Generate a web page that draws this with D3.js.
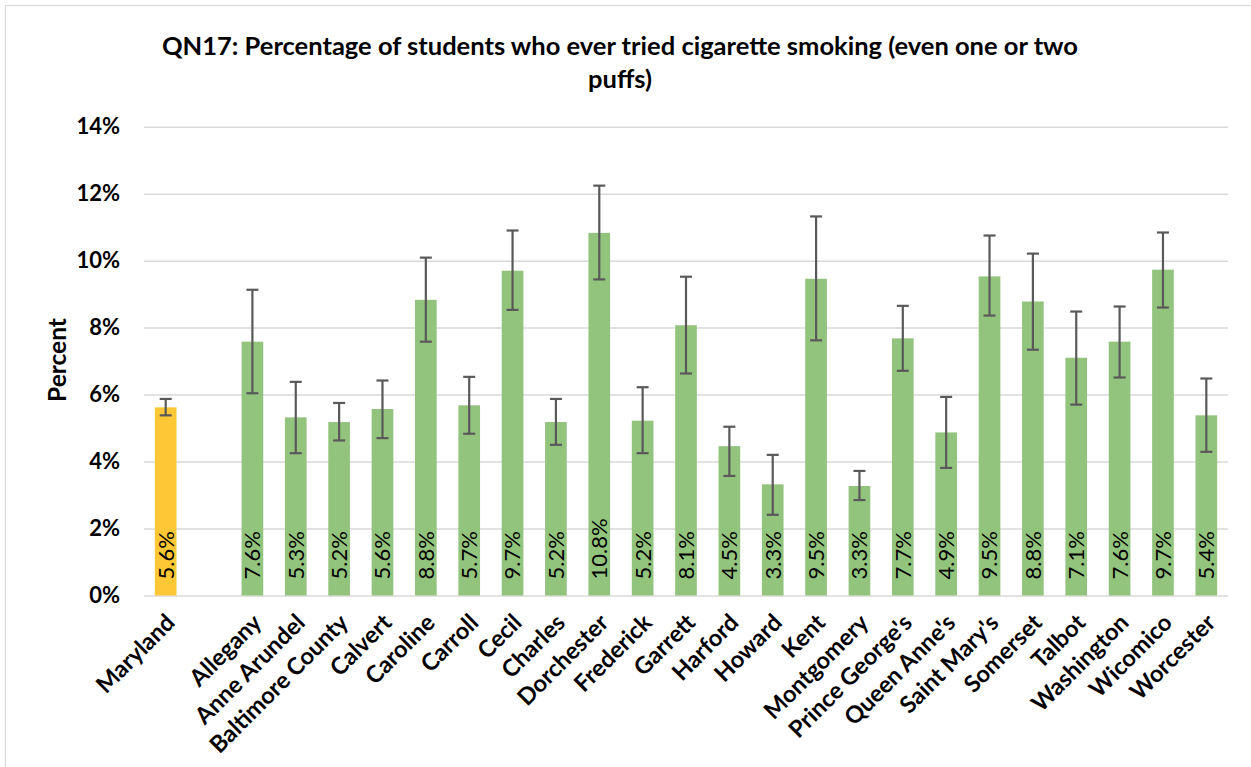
<!DOCTYPE html>
<html><head><meta charset="utf-8">
<script src="https://cdn.jsdelivr.net/npm/d3@7"></script>
<style>
html,body{margin:0;padding:0;background:#fff;}
svg{display:block;font-family:Lato,"Open Sans",sans-serif;}
</style></head>
<body>
<svg id="chart" width="1251" height="767"></svg>
<script>
const titleLines = ["QN17: Percentage of students who ever tried cigarette smoking (even one or two", "puffs)"];
const yAxisTitle = "Percent";
const categories = ["Maryland", "Allegany", "Anne Arundel", "Baltimore County", "Calvert", "Caroline", "Carroll", "Cecil", "Charles", "Dorchester", "Frederick", "Garrett", "Harford", "Howard", "Kent", "Montgomery", "Prince George's", "Queen Anne's", "Saint Mary's", "Somerset", "Talbot", "Washington", "Wicomico", "Worcester"];
const values = [5.62, 7.58, 5.32, 5.18, 5.57, 8.83, 5.68, 9.70, 5.18, 10.83, 5.22, 8.07, 4.46, 3.32, 9.46, 3.27, 7.68, 4.87, 9.53, 8.78, 7.10, 7.58, 9.73, 5.38];
const lower = [5.38, 6.04, 4.25, 4.63, 4.70, 7.58, 4.83, 8.53, 4.50, 9.44, 4.25, 6.63, 3.57, 2.41, 7.62, 2.85, 6.71, 3.81, 8.36, 7.34, 5.70, 6.51, 8.60, 4.29];
const upper = [5.87, 9.13, 6.38, 5.75, 6.42, 10.09, 6.53, 10.90, 5.87, 12.24, 6.22, 9.52, 5.04, 4.20, 11.32, 3.72, 8.65, 5.93, 10.75, 10.21, 8.48, 8.63, 10.84, 6.48];
const yTicks = [0, 2, 4, 6, 8, 10, 12, 14];

const data = categories.map((c, i) => ({name: c, value: values[i], lo: lower[i], hi: upper[i], state: i === 0}));
const slots = [categories[0], "__gap__", ...categories.slice(1)];

const svg = d3.select("#chart");
const pLeft = 144, pRight = 1228, pTop = 126.7, pBottom = 595.5;

// outer border
svg.append("rect").attr("x", 5.5).attr("y", 5.5).attr("width", 1300).attr("height", 800)
  .attr("fill", "none").attr("stroke", "#d9d9d9").attr("stroke-width", 1.2);

const x = d3.scaleBand().domain(slots).range([pLeft, pRight]).paddingInner(0.5).paddingOuter(0.25);
const y = d3.scaleLinear().domain([0, 14]).range([pBottom, pTop]);

// gridlines
const yAxis = d3.axisLeft(y).tickValues(yTicks).tickSize(-(pRight - pLeft)).tickFormat(d => d + "%").tickPadding(24);
const gy = svg.append("g").attr("transform", `translate(${pLeft},0)`).call(yAxis);
gy.select(".domain").remove();
gy.selectAll(".tick line").attr("stroke", "#d9d9d9").attr("stroke-width", 1.5);
gy.selectAll(".tick text").attr("font-size", 22).attr("font-weight", "bold").attr("fill", "#000")
  .attr("font-family", "Lato");

// bars
svg.append("g").selectAll("rect").data(data).join("rect")
  .attr("x", d => x(d.name)).attr("width", x.bandwidth())
  .attr("y", d => y(d.value)).attr("height", d => y(0) - y(d.value))
  .attr("fill", d => d.state ? "#fec735" : "#93c47d");

// value labels
svg.append("g").selectAll("text").data(data).join("text")
  .attr("transform", d => `translate(${x(d.name) + x.bandwidth() / 2},${pBottom - 16}) rotate(-90)`)
  .attr("text-anchor", "start").attr("dy", "0.36em")
  .attr("font-size", 22).attr("fill", "#000")
  .text(d => d3.format(".1f")(d.value) + "%");

// error bars
const eb = svg.append("g").attr("stroke", "#595959").attr("stroke-width", 2.2).attr("fill", "none");
data.forEach(d => {
  const cx = x(d.name) + x.bandwidth() / 2;
  eb.append("line").attr("x1", cx).attr("x2", cx).attr("y1", y(d.lo)).attr("y2", y(d.hi));
  eb.append("line").attr("x1", cx - 6).attr("x2", cx + 6).attr("y1", y(d.lo)).attr("y2", y(d.lo));
  eb.append("line").attr("x1", cx - 6).attr("x2", cx + 6).attr("y1", y(d.hi)).attr("y2", y(d.hi));
});

// x-axis category labels
svg.append("g").selectAll("text").data(data).join("text")
  .attr("transform", d => `translate(${x(d.name) + x.bandwidth() / 2 - 1},${pBottom + 17}) rotate(-45)`)
  .attr("text-anchor", "end").attr("dy", "0.7em")
  .attr("font-size", 23.5).attr("font-weight", "bold").attr("fill", "#000")
  .text(d => d.name);

// y-axis title
svg.append("text").attr("transform", "translate(57,360) rotate(-90)")
  .attr("text-anchor", "middle").attr("dy", "0.35em")
  .attr("font-size", 24.5).attr("font-weight", "bold").attr("fill", "#000").text(yAxisTitle);

// title
svg.append("g").selectAll("text").data(titleLines).join("text")
  .attr("x", 620).attr("y", (d, i) => 55 + i * 33)
  .attr("text-anchor", "middle").attr("font-size", 25.5).attr("font-weight", "bold").attr("fill", "#000")
  .text(d => d);
</script>
</body></html>
